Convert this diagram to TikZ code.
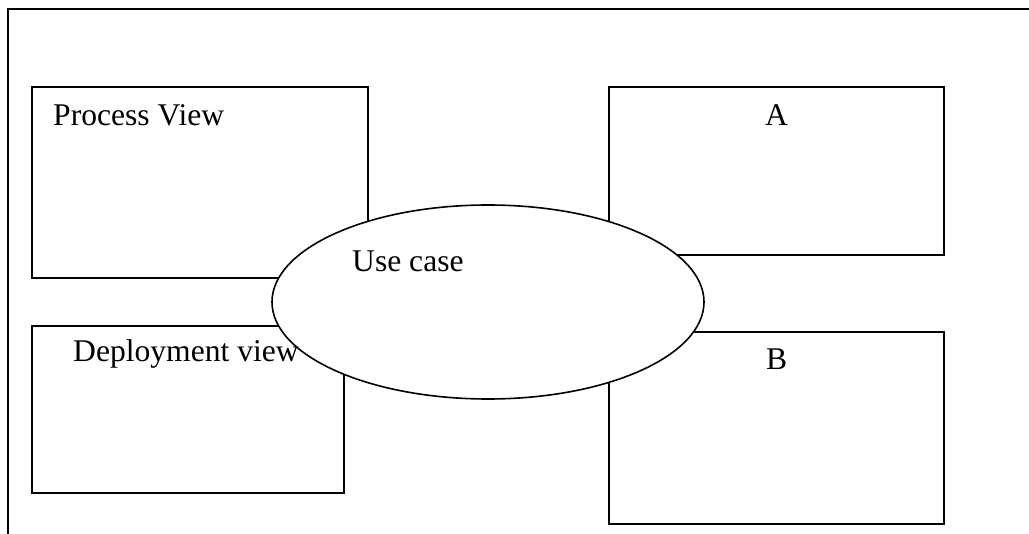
\documentclass[tikz,border=0pt]{standalone}
\usepackage{fontspec}
\setmainfont{Liberation Serif}
\usetikzlibrary{shapes.geometric}
\begin{document}
\begin{tikzpicture}[x=1pt,y=-1pt,
  viewbox/.style={draw, line width=1.6pt, inner sep=0pt, anchor=north west, fill=white},
  lbl/.style={anchor=base west, inner sep=0pt, font=\fontsize{31.6}{38}\selectfont},
  frameline/.style={line width=2.2pt}]
\useasboundingbox (0,0) rectangle (1029,534);
\coordinate (ftr) at (1029,9);
\coordinate (ftl) at (8,9);
\coordinate (fbl) at (8,534);
\draw[frameline] (ftr) -- (ftl) -- (fbl);
\node[viewbox, minimum width=336pt, minimum height=191pt] (proc) at (31,86) {};
\node[viewbox, minimum width=312pt, minimum height=167pt] (depl) at (31,325) {};
\node[viewbox, minimum width=335pt, minimum height=168pt] (boxa) at (608,86) {};
\node[viewbox, minimum width=335pt, minimum height=192pt] (boxb) at (608,331) {};
\node[draw, ellipse, line width=1.6pt, fill=white, inner sep=0pt, minimum width=432pt, minimum height=194pt] (uc) at (488,302) {};
\node[lbl] (proctext) at (53,126) {Process View};
\node[lbl] (depltext) at (73,362) {Deployment view};
\node[lbl] (uctext) at (352,272) {Use case};
\node[lbl] (atext) at (765,126) {A};
\node[lbl] (btext) at (766,370) {B};
\end{tikzpicture}
\end{document}
